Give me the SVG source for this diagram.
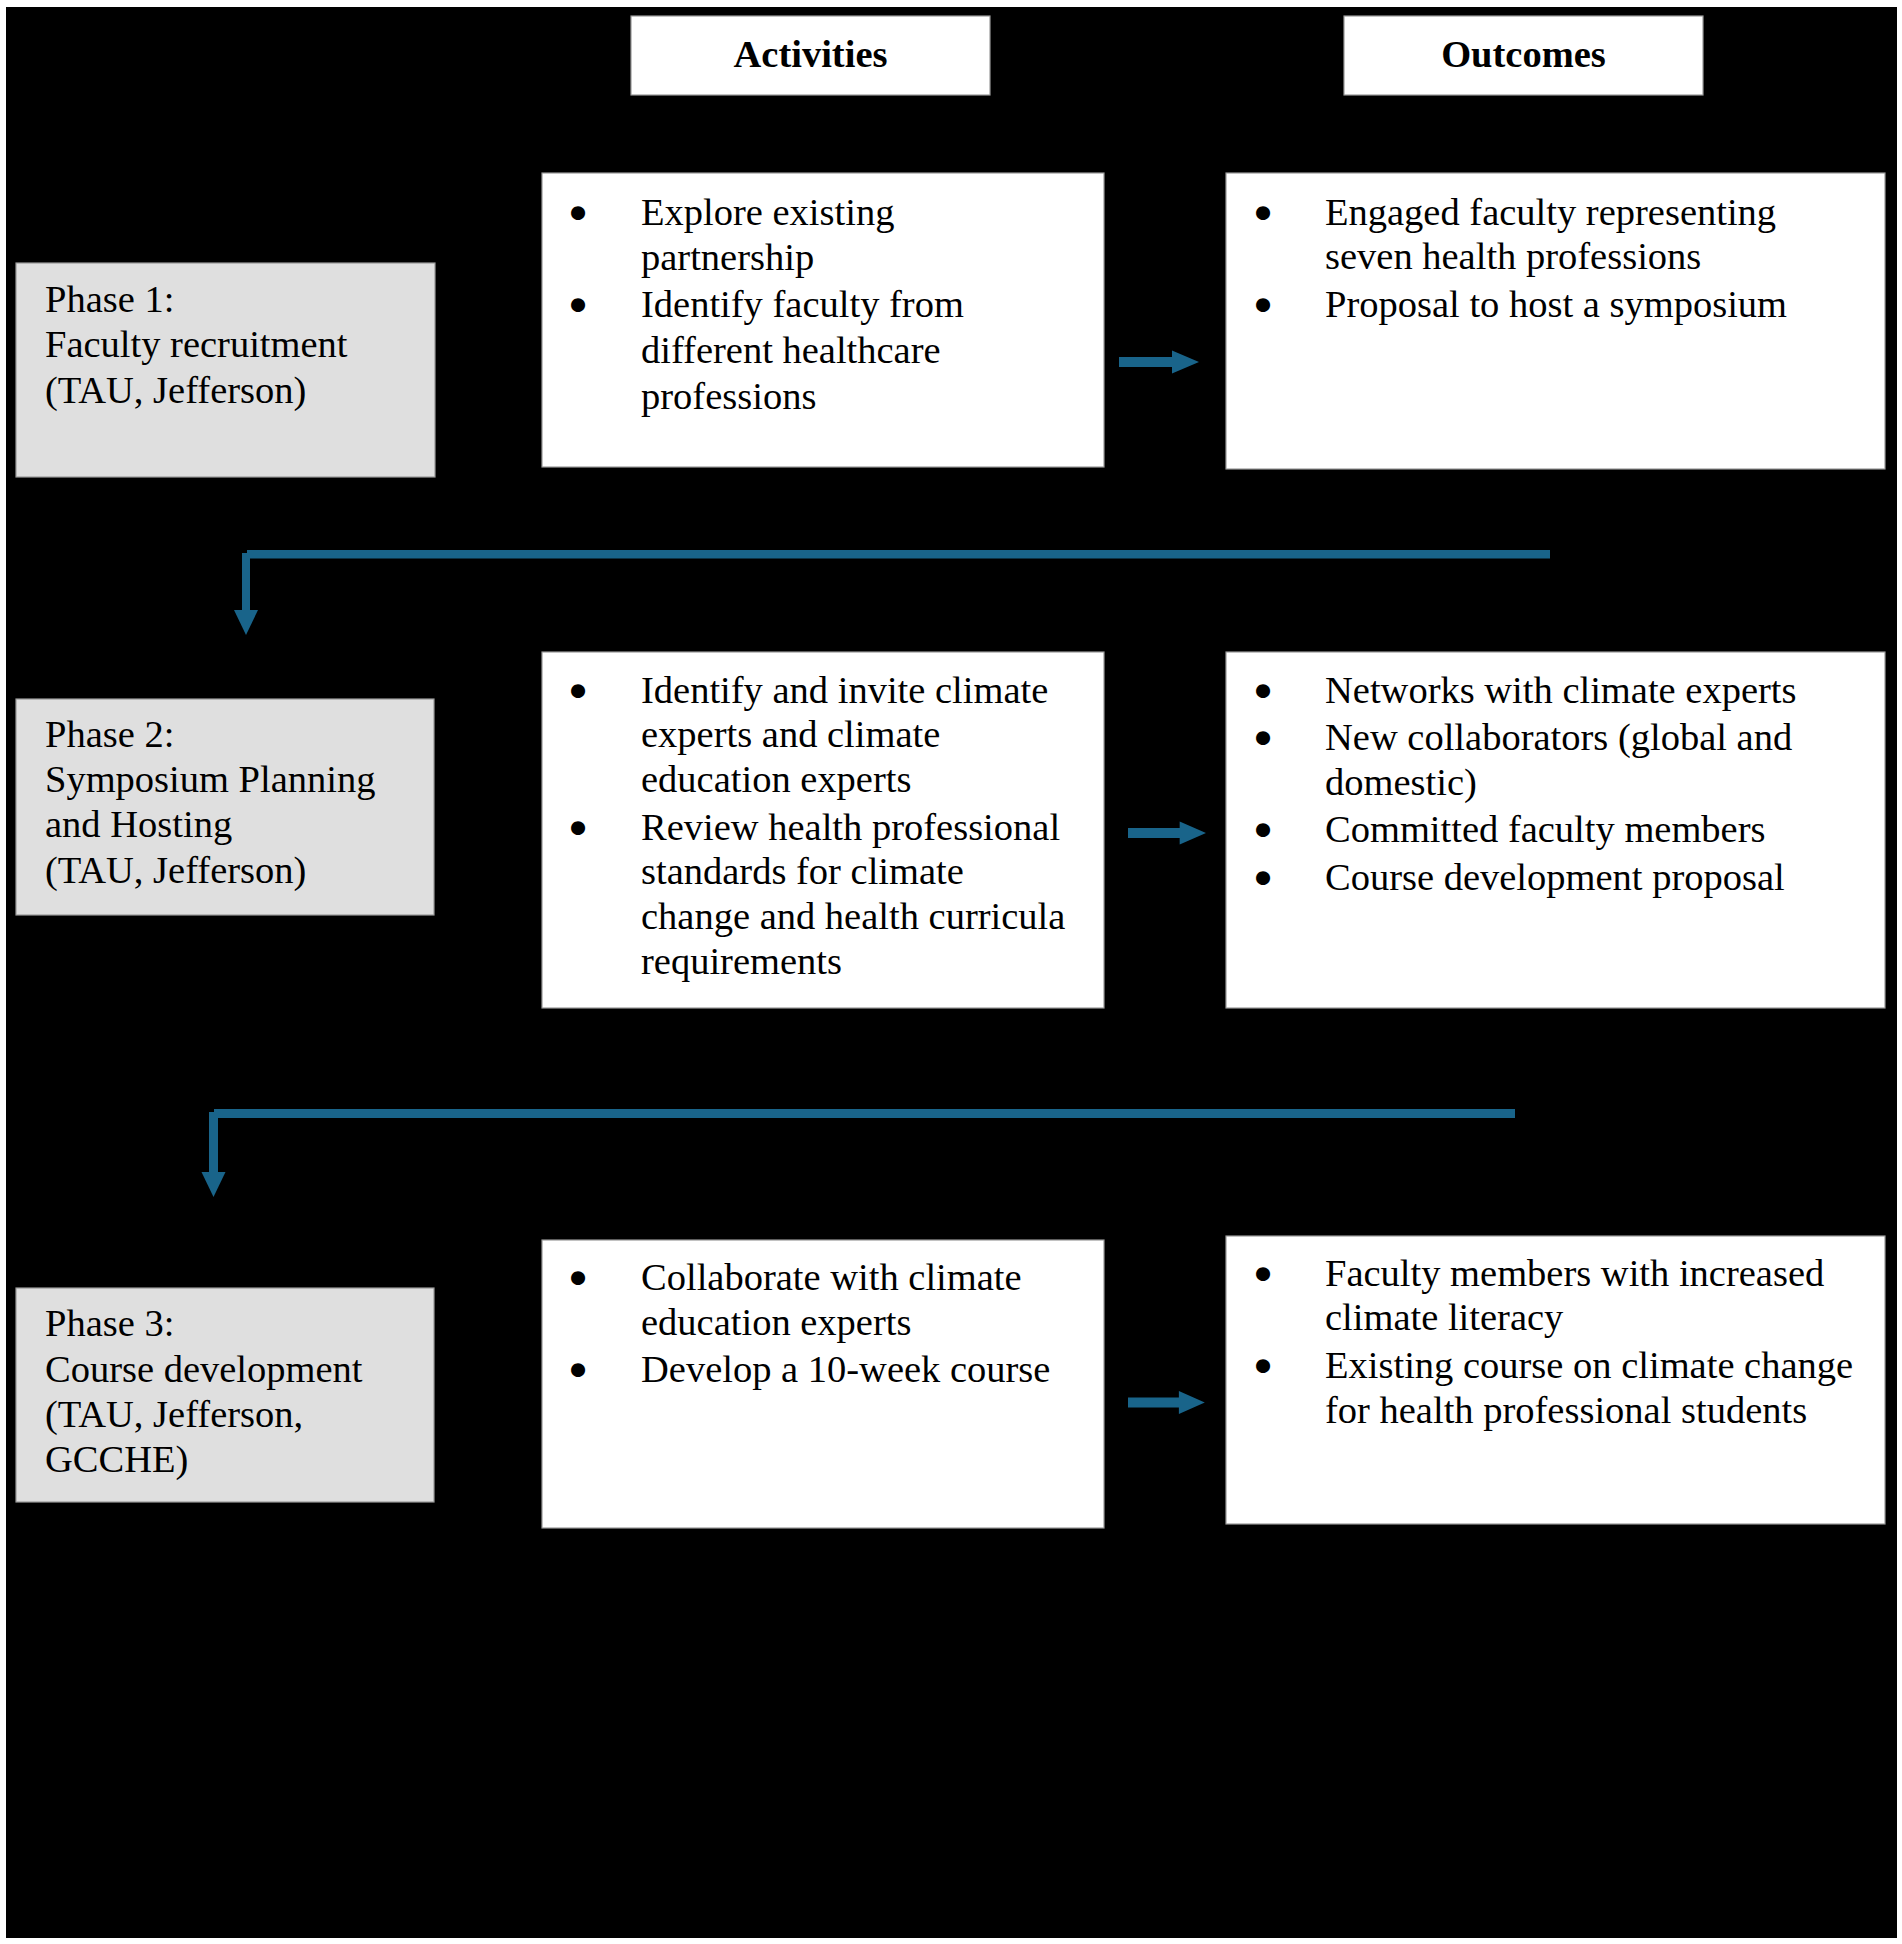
<svg xmlns="http://www.w3.org/2000/svg" xmlns:xlink="http://www.w3.org/1999/xlink" width="1902" height="1944" viewBox="0 0 1902 1944">
  <style>
    .bg { fill: #000000; }
    .box { fill: #ffffff; stroke: #9a9a9a; stroke-width: 1.2; }
    .phase { fill: #dfdfdf; stroke: #9a9a9a; stroke-width: 1.2; }
    .t { font-family: "Liberation Serif", "Times New Roman", serif; font-size: 38.5px; fill: #000000; }
    .h { font-family: "Liberation Serif", "Times New Roman", serif; font-size: 38.5px; font-weight: bold; fill: #000000; text-anchor: middle; }
    .b { font-family: "DejaVu Serif", serif; font-size: 40px; font-weight: bold; fill: #000000; text-anchor: middle; }
    .conn { fill: #19648a; }
  </style>
  <defs>
    <path id="rarrow" d="M0,-5 L53,-5 L53,-11.5 L80,0 L53,11.5 L53,5 L0,5 Z"/>
    <path id="darrow" d="M-12,0 L12,0 L0,25 Z"/>
  </defs>

  <rect x="0" y="0" width="1902" height="1944" fill="#ffffff"/>
  <rect class="bg" x="6" y="7" width="1891" height="1931"/>

  <g id="header-activities">
    <rect class="box" x="631" y="16" width="359" height="79"/>
    <text class="h" x="810.5" y="67">Activities</text>
  </g>
  <g id="header-outcomes">
    <rect class="box" x="1344" y="16" width="359" height="79"/>
    <text class="h" x="1523.5" y="67">Outcomes</text>
  </g>

  <g id="phase1">
    <rect class="phase" x="16" y="263" width="419" height="214"/>
    <text class="t" x="45" y="312">Phase 1:</text>
    <text class="t" x="45" y="357">Faculty recruitment</text>
    <text class="t" x="45" y="403">(TAU, Jefferson)</text>
  </g>
  <g id="activities1">
    <rect class="box" x="542" y="173" width="562" height="294"/>
    <text class="b" x="578" y="228">•</text>
    <text class="t" x="641" y="225">Explore existing</text>
    <text class="t" x="641" y="270">partnership</text>
    <text class="b" x="578" y="320">•</text>
    <text class="t" x="641" y="317">Identify faculty from</text>
    <text class="t" x="641" y="363">different healthcare</text>
    <text class="t" x="641" y="409">professions</text>
  </g>
  <g id="outcomes1">
    <rect class="box" x="1226" y="173" width="659" height="296"/>
    <text class="b" x="1263" y="228">•</text>
    <text class="t" x="1325" y="225">Engaged faculty representing</text>
    <text class="t" x="1325" y="269">seven health professions</text>
    <text class="b" x="1263" y="320">•</text>
    <text class="t" x="1325" y="317">Proposal to host a symposium</text>
  </g>

  <g id="phase2">
    <rect class="phase" x="16" y="699" width="418" height="216"/>
    <text class="t" x="45" y="747">Phase 2:</text>
    <text class="t" x="45" y="792">Symposium Planning</text>
    <text class="t" x="45" y="837">and Hosting</text>
    <text class="t" x="45" y="883">(TAU, Jefferson)</text>
  </g>
  <g id="activities2">
    <rect class="box" x="542" y="652" width="562" height="356"/>
    <text class="b" x="578" y="706">•</text>
    <text class="t" x="641" y="703">Identify and invite climate</text>
    <text class="t" x="641" y="747">experts and climate</text>
    <text class="t" x="641" y="792">education experts</text>
    <text class="b" x="578" y="843">•</text>
    <text class="t" x="641" y="840">Review health professional</text>
    <text class="t" x="641" y="884">standards for climate</text>
    <text class="t" x="641" y="929">change and health curricula</text>
    <text class="t" x="641" y="974">requirements</text>
  </g>
  <g id="outcomes2">
    <rect class="box" x="1226" y="652" width="659" height="356"/>
    <text class="b" x="1263" y="706">•</text>
    <text class="t" x="1325" y="703">Networks with climate experts</text>
    <text class="b" x="1263" y="753">•</text>
    <text class="t" x="1325" y="750">New collaborators (global and</text>
    <text class="t" x="1325" y="795">domestic)</text>
    <text class="b" x="1263" y="845">•</text>
    <text class="t" x="1325" y="842">Committed faculty members</text>
    <text class="b" x="1263" y="893">•</text>
    <text class="t" x="1325" y="890">Course development proposal</text>
  </g>

  <g id="phase3">
    <rect class="phase" x="16" y="1288" width="418" height="214"/>
    <text class="t" x="45" y="1336">Phase 3:</text>
    <text class="t" x="45" y="1382">Course development</text>
    <text class="t" x="45" y="1427">(TAU, Jefferson,</text>
    <text class="t" x="45" y="1472">GCCHE)</text>
  </g>
  <g id="activities3">
    <rect class="box" x="542" y="1240" width="562" height="288"/>
    <text class="b" x="578" y="1293">•</text>
    <text class="t" x="641" y="1290">Collaborate with climate</text>
    <text class="t" x="641" y="1335">education experts</text>
    <text class="b" x="578" y="1385">•</text>
    <text class="t" x="641" y="1382">Develop a 10-week course</text>
  </g>
  <g id="outcomes3">
    <rect class="box" x="1226" y="1236" width="659" height="288"/>
    <text class="b" x="1263" y="1289">•</text>
    <text class="t" x="1325" y="1286">Faculty members with increased</text>
    <text class="t" x="1325" y="1330">climate literacy</text>
    <text class="b" x="1263" y="1381">•</text>
    <text class="t" x="1325" y="1378">Existing course on climate change</text>
    <text class="t" x="1325" y="1423">for health professional students</text>
  </g>

  <g id="connectors" class="conn">
    <use xlink:href="#rarrow" transform="translate(1119,362)"/>
    <use xlink:href="#rarrow" transform="translate(1128,833) scale(0.975,1)"/>
    <use xlink:href="#rarrow" transform="translate(1128,1402.5) scale(0.96,1)"/>
    <rect x="247" y="550" width="1303" height="8.5"/>
    <rect x="242" y="553" width="8" height="59"/>
    <use xlink:href="#darrow" transform="translate(246,610)"/>
    <rect x="214" y="1109" width="1301" height="9"/>
    <rect x="209" y="1112" width="9" height="61"/>
    <use xlink:href="#darrow" transform="translate(213.5,1172)"/>
  </g>
</svg>
